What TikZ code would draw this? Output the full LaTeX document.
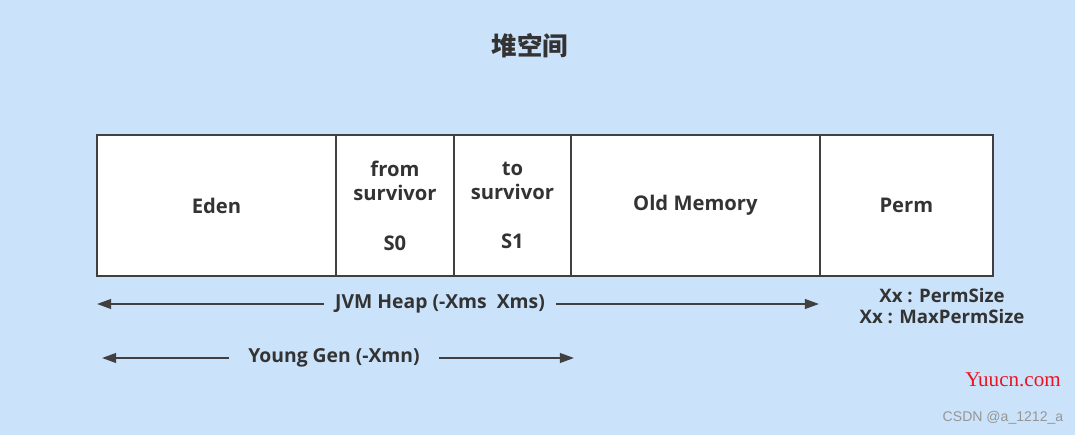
\documentclass[tikz,border=0pt]{standalone}
\usepackage{fontspec}
\setmainfont{Open Sans}
\newfontfamily\cjkfont{Noto Sans CJK SC}
\newfontfamily\markserif{Liberation Serif}
\newfontfamily\marksans{Liberation Sans}
\definecolor{mbg}{RGB}{202,227,251}
\definecolor{mline}{RGB}{64,64,64}
\definecolor{mtext}{RGB}{51,51,51}
\definecolor{mred}{RGB}{235,20,30}
\definecolor{mgray}{RGB}{150,150,150}
\usetikzlibrary{arrows.meta,positioning}

\begin{document}
\begin{tikzpicture}[x=0.02cm, y=-0.02cm,
    cell/.style={draw=mline, line width=1.1pt, fill=white, outer sep=0pt, inner sep=0pt,
                 minimum height=2.82cm, align=center, text=mtext,
                 font=\bfseries\fontsize{11.5}{14}\selectfont},
    lbl/.style={text=mtext, inner sep=0pt, inner xsep=6pt, align=center,
                font=\bfseries\fontsize{11}{12}\selectfont},
    arr/.style={-{Triangle[length=8pt,width=5.5pt]}, mline, line width=1.1pt},
  ]
    \useasboundingbox[fill=mbg] (0,0) rectangle (1075,435);
    \node[text=mtext, font=\cjkfont\bfseries\fontsize{14.5}{16}\selectfont] (title) at (530,46) {堆空间};
    % heap cells
    \node[cell, minimum width=4.78cm, anchor=north west] (eden) at (97,135) {Eden};
    \node[cell, minimum width=2.36cm, right=0pt of eden] (s0) {from\\survivor\\[14pt]S0};
    \node[cell, minimum width=2.34cm, right=0pt of s0] (s1) {to\\survivor\\[14pt]S1};
    \node[cell, minimum width=4.98cm, right=0pt of s1] (old) {\raisebox{-1.5pt}{Old Memory}};
    \node[cell, minimum width=3.46cm, right=0pt of old] (perm) {Perm};
    % sizes
    \node[lbl] (jvm) at (440,304) {JVM Heap (-Xms\ \ Xms)};
    \coordinate (jvmL) at (97,304);
    \coordinate (jvmR) at (819,304);
    \draw[arr] (jvm) -- (jvmL);
    \draw[arr] (jvm) -- (jvmR);
    \node[lbl, inner xsep=11pt] (young) at (334,358) {Young Gen (-Xmn)};
    \coordinate (youngL) at (102,358);
    \coordinate (youngR) at (574,358);
    \draw[arr] (young) -- (youngL);
    \draw[arr] (young) -- (youngR);
    \node[lbl, font=\bfseries\fontsize{10.6}{12}\selectfont] (permsz) at (942,306) {Xx : PermSize\\Xx : MaxPermSize};
    % marks
    \node[text=mred, font=\markserif\fontsize{12}{12}\selectfont] (yuu) at (1013,380) {Yuucn.com};
    \node[text=mgray, font=\marksans\fontsize{8}{8}\selectfont] (csdn) at (1003,418) {CSDN @a\_1212\_a};
\end{tikzpicture}
\end{document}
